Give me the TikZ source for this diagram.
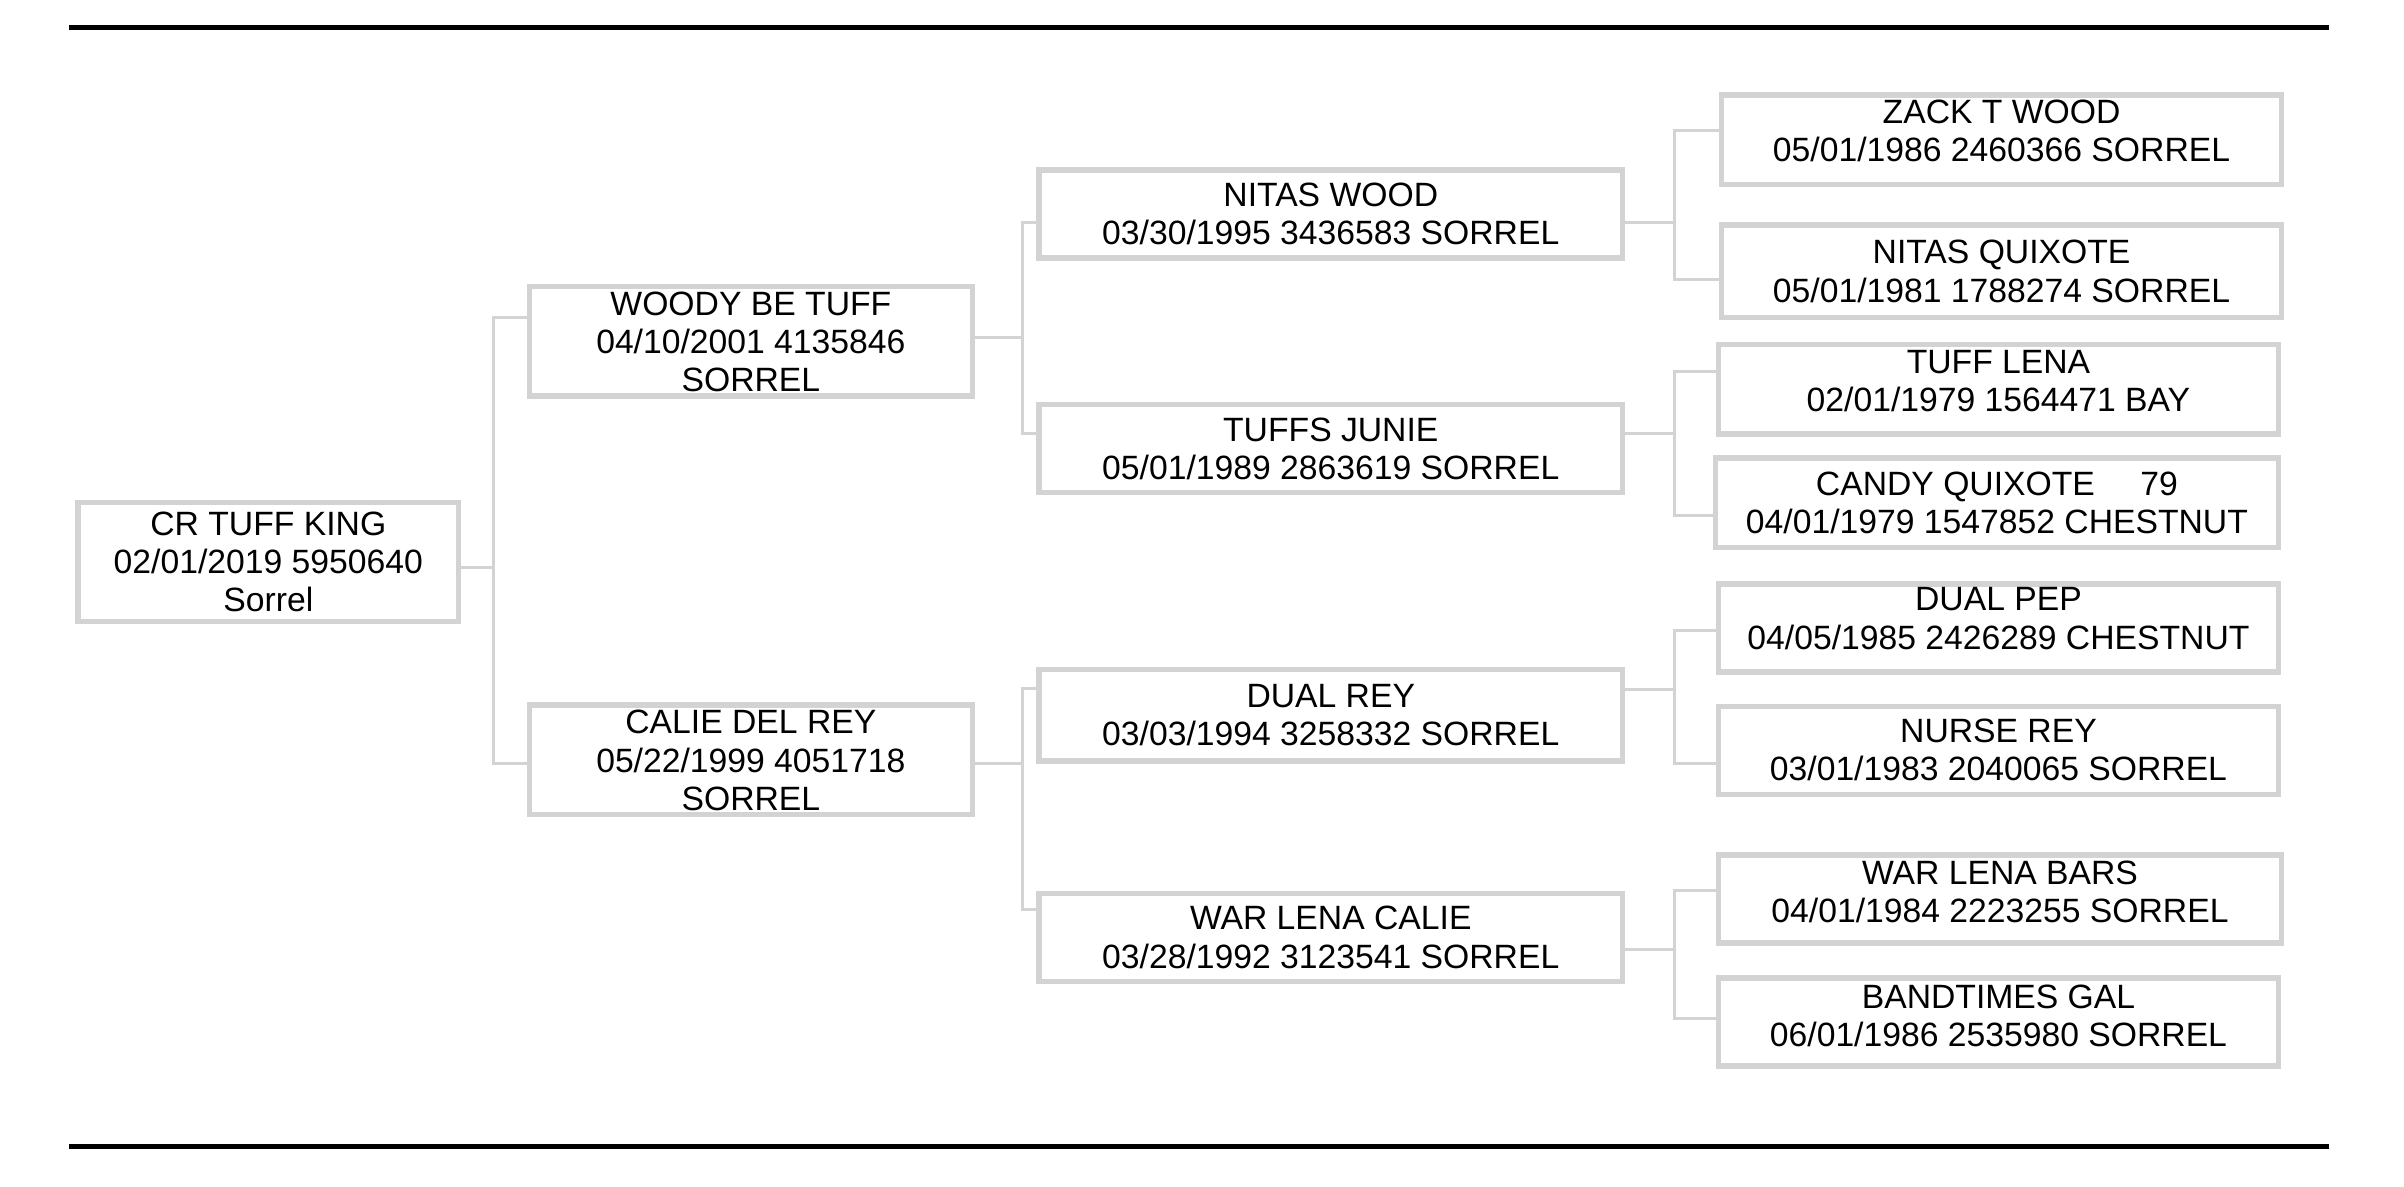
\documentclass[tikz,border=0pt]{standalone}
\usepackage{fontspec}
\setmainfont{Liberation Sans}
\usetikzlibrary{calc}
\definecolor{boxgray}{RGB}{211,211,211}
\newcommand{\PBox}[5]{\node[pedbox,minimum width={(#4-#2-3.6)*1.5332pt},minimum height={(#5-#3-3.6)*1.5332pt}] (#1) at ({(#2+#4)/2},{(#3+#5)/2}) {};}
\newcommand{\PText}[4]{\node[pedtext] (#1-t) at ($(#1.center)+(#2,#3)$) {#4};}
\begin{document}
\begin{tikzpicture}[x=1.5332pt,y=-1.5332pt,
  pedbox/.style={draw=boxgray,line width=5.5pt,inner sep=0pt,outer sep=0pt,rectangle},
  pedtext/.style={align=center,inner sep=0pt,font=\fontsize{33.7}{38.3}\selectfont},
  conn/.style={draw=boxgray,line width=3pt},
  rulestyle/.style={draw=black,line width=5pt}]
\useasboundingbox (0,0) rectangle (1568,774);
% rules
\coordinate (rt1) at (45,18); \coordinate (rt2) at (1519,18);
\coordinate (rb1) at (45,747.5); \coordinate (rb2) at (1519,747.5);
\draw[rulestyle] (rt1) -- (rt2);
\draw[rulestyle] (rb1) -- (rb2);
% boxes
\PBox{root}{49}{326}{301}{407}
\PBox{woody}{343.5}{185}{636}{260}
\PBox{calie}{343.5}{458}{636}{533}
\PBox{nitas}{676}{109}{1060}{170}
\PBox{tuffs}{676}{262}{1060}{323}
\PBox{dualrey}{676}{435}{1060}{498}
\PBox{warcalie}{676}{581}{1060}{642}
\PBox{zack}{1121}{60}{1490}{122}
\PBox{nitasq}{1121}{145}{1490}{209}
\PBox{tufflena}{1119}{223}{1488}{285}
\PBox{candy}{1117}{297}{1488}{359}
\PBox{dualpep}{1119}{379}{1488}{440}
\PBox{nurse}{1119}{459}{1488}{520}
\PBox{warbars}{1119}{556}{1490}{617}
\PBox{band}{1119}{636}{1488}{697}
% texts
\PText{root}{0}{0}{CR TUFF KING\\02/01/2019 5950640\\Sorrel}
\PText{woody}{0}{0.5}{WOODY BE TUFF\\04/10/2001 4135846\\SORREL}
\PText{calie}{0}{0.5}{CALIE DEL REY\\05/22/1999 4051718\\SORREL}
\PText{nitas}{0}{0}{NITAS WOOD\\03/30/1995 3436583 SORREL}
\PText{tuffs}{0}{0.5}{TUFFS JUNIE\\05/01/1989 2863619 SORREL}
\PText{dualrey}{0}{0}{DUAL REY\\03/03/1994 3258332 SORREL}
\PText{warcalie}{0}{0}{WAR LENA CALIE\\03/28/1992 3123541 SORREL}
\PText{zack}{0}{-5.5}{ZACK T WOOD\\05/01/1986 2460366 SORREL}
\PText{nitasq}{0}{0}{NITAS QUIXOTE\\05/01/1981 1788274 SORREL}
\PText{tufflena}{0}{-5.5}{TUFF LENA\\02/01/1979 1564471 BAY}
\PText{candy}{0}{0}{CANDY QUIXOTE\hspace{1.35em}79\\04/01/1979 1547852 CHESTNUT}
\PText{dualpep}{0}{-6}{DUAL PEP\\04/05/1985 2426289 CHESTNUT}
\PText{nurse}{0}{-0.5}{NURSE REY\\03/01/1983 2040065 SORREL}
\PText{warbars}{0}{-5}{WAR LENA BARS\\04/01/1984 2223255 SORREL}
\PText{band}{0}{-4}{BANDTIMES GAL\hspace{0.85em}\\06/01/1986 2535980 SORREL}
% connectors
\coordinate (j0) at (322,370); \coordinate (j0a) at (322,207); \coordinate (j0b) at (322,498);
\draw[conn] (root.east |- j0) -- (j0);
\draw[conn] (woody.west |- j0a) -- (j0a) -- (j0b) -- (calie.west |- j0b);
\coordinate (j1) at (667,220); \coordinate (j1a) at (667,145); \coordinate (j1b) at (667,283);
\draw[conn] (woody.east |- j1) -- (j1);
\draw[conn] (nitas.west |- j1a) -- (j1a) -- (j1b) -- (tuffs.west |- j1b);
\coordinate (j2) at (667,498); \coordinate (j2a) at (667,449); \coordinate (j2b) at (667,593);
\draw[conn] (calie.east |- j2) -- (j2);
\draw[conn] (dualrey.west |- j2a) -- (j2a) -- (j2b) -- (warcalie.west |- j2b);
\coordinate (j3) at (1092,145); \coordinate (j3a) at (1092,85); \coordinate (j3b) at (1092,182);
\draw[conn] (nitas.east |- j3) -- (j3);
\draw[conn] (zack.west |- j3a) -- (j3a) -- (j3b) -- (nitasq.west |- j3b);
\coordinate (j4) at (1092,283); \coordinate (j4a) at (1092,242); \coordinate (j4b) at (1092,336);
\draw[conn] (tuffs.east |- j4) -- (j4);
\draw[conn] (tufflena.west |- j4a) -- (j4a) -- (j4b) -- (candy.west |- j4b);
\coordinate (j5) at (1092,450); \coordinate (j5a) at (1092,411); \coordinate (j5b) at (1092,498);
\draw[conn] (dualrey.east |- j5) -- (j5);
\draw[conn] (dualpep.west |- j5a) -- (j5a) -- (j5b) -- (nurse.west |- j5b);
\coordinate (j6) at (1092,619); \coordinate (j6a) at (1092,581); \coordinate (j6b) at (1092,664);
\draw[conn] (warcalie.east |- j6) -- (j6);
\draw[conn] (warbars.west |- j6a) -- (j6a) -- (j6b) -- (band.west |- j6b);
\end{tikzpicture}
\end{document}
